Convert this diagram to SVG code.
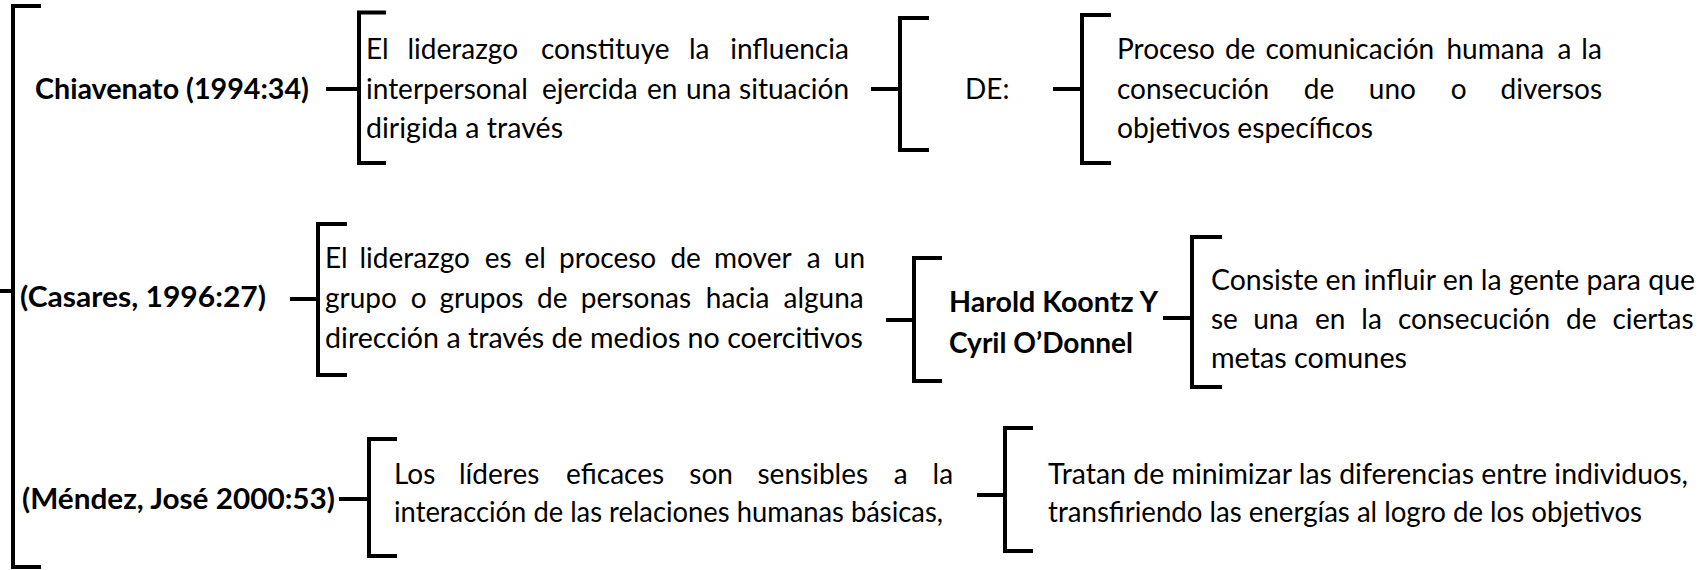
<svg xmlns="http://www.w3.org/2000/svg" width="1704" height="570" viewBox="0 0 1704 570">
<style>
.t{font-family:Lato,"Open Sans","Liberation Sans",sans-serif;font-size:28px;fill:#000}
.b{font-weight:700;font-size:29px}
.br{fill:none;stroke:#000;stroke-width:4}
.cn{fill:none;stroke:#000;stroke-width:4}
</style>
<rect width="1704" height="570" fill="#fff"/>
<g id="root-bracket"><path class="br" d="M41,6H13V567H41"/></g>
<g id="connectors">
<path class="cn" d="M0,291H13"/>
<path class="cn" d="M326,89H359"/>
<path class="cn" d="M871,89H900"/>
<path class="cn" d="M1053,89H1082"/>
<path class="cn" d="M290,299H318"/>
<path class="cn" d="M886,320H914"/>
<path class="cn" d="M1163,318H1192"/>
<path class="cn" d="M339,499H369"/>
<path class="cn" d="M977,495H1005"/>
</g>
<g id="chiavenato"><text class="t b" x="35" y="99" textLength="274" lengthAdjust="spacingAndGlyphs">Chiavenato (1994:34)</text></g>
<g id="def-chiavenato">
<path class="br" d="M386,12.5H359V163H386"/>
<text class="t" y="59"><tspan x="366">El</tspan><tspan x="407.5">liderazgo</tspan><tspan x="541">constituye</tspan><tspan x="689">la</tspan><tspan x="730.2">influencia</tspan></text>
<text class="t" y="99"><tspan x="366">interpersonal</tspan><tspan x="542">ejercida</tspan><tspan x="647">en</tspan><tspan x="686">una</tspan><tspan x="739.1">situación</tspan></text>
<text class="t" x="366" y="138" textLength="197" lengthAdjust="spacingAndGlyphs">dirigida a través</text>
</g>
<g id="de">
<path class="br" d="M929,18H900V150H929"/>
<text class="t" x="965" y="99">DE:</text>
</g>
<g id="def-de">
<path class="br" d="M1111,15H1082V163H1111"/>
<text class="t" y="59"><tspan x="1117">Proceso</tspan><tspan x="1224.9">de</tspan><tspan x="1265.4">comunicación</tspan><tspan x="1446.5">humana</tspan><tspan x="1557.4">a</tspan><tspan x="1581.3">la</tspan></text>
<text class="t" y="99"><tspan x="1117">consecución</tspan><tspan x="1303.8">de</tspan><tspan x="1368.8">uno</tspan><tspan x="1450.7">o</tspan><tspan x="1500.6">diversos</tspan></text>
<text class="t" x="1117" y="138" textLength="256" lengthAdjust="spacingAndGlyphs">objetivos específicos</text>
</g>
<g id="casares"><text class="t b" x="20" y="307" textLength="246" lengthAdjust="spacingAndGlyphs">(Casares, 1996:27)</text></g>
<g id="def-casares">
<path class="br" d="M347,224H318V375H347"/>
<text class="t" y="268"><tspan x="325">El</tspan><tspan x="359.4">liderazgo</tspan><tspan x="484.8">es</tspan><tspan x="524.4">el</tspan><tspan x="559.1">proceso</tspan><tspan x="670.4">de</tspan><tspan x="714.1">mover</tspan><tspan x="806.7">a</tspan><tspan x="833.8">un</tspan></text>
<text class="t" y="308"><tspan x="325">grupo</tspan><tspan x="410.7">o</tspan><tspan x="439.4">grupos</tspan><tspan x="537">de</tspan><tspan x="580.8">personas</tspan><tspan x="705.8">hacia</tspan><tspan x="783.5">alguna</tspan></text>
<text class="t" x="325" y="348" textLength="538" lengthAdjust="spacingAndGlyphs">dirección a través de medios no coercitivos</text>
</g>
<g id="koontz">
<path class="br" d="M942,258H914V381H942"/>
<text class="t b" x="949" y="312" textLength="209" lengthAdjust="spacingAndGlyphs">Harold Koontz Y</text>
<text class="t b" x="949" y="353" textLength="184" lengthAdjust="spacingAndGlyphs">Cyril O’Donnel</text>
</g>
<g id="def-koontz">
<path class="br" d="M1222,237H1192V387H1222"/>
<text class="t" x="1211" y="290" textLength="484" lengthAdjust="spacingAndGlyphs">Consiste en influir en la gente para que</text>
<text class="t" y="329"><tspan x="1211">se</tspan><tspan x="1253.2">una</tspan><tspan x="1315">en</tspan><tspan x="1361.3">la</tspan><tspan x="1398">consecución</tspan><tspan x="1566.1">de</tspan><tspan x="1612.5">ciertas</tspan></text>
<text class="t" x="1211" y="368" textLength="196" lengthAdjust="spacingAndGlyphs">metas comunes</text>
</g>
<g id="mendez"><text class="t b" x="22" y="509" textLength="313" lengthAdjust="spacingAndGlyphs">(Méndez, José 2000:53)</text></g>
<g id="def-mendez">
<path class="br" d="M397,439H369V556H397"/>
<text class="t" y="484"><tspan x="394">Los</tspan><tspan x="459">líderes</tspan><tspan x="566.1">eficaces</tspan><tspan x="689.3">son</tspan><tspan x="757.5">sensibles</tspan><tspan x="893.8">a</tspan><tspan x="932.6">la</tspan></text>
<text class="t" x="394" y="522" textLength="549" lengthAdjust="spacingAndGlyphs">interacción de las relaciones humanas básicas,</text>
</g>
<g id="def-mendez-2">
<path class="br" d="M1033,428H1005V551H1033"/>
<text class="t" x="1048" y="484" textLength="640" lengthAdjust="spacingAndGlyphs">Tratan de minimizar las diferencias entre individuos,</text>
<text class="t" x="1048" y="522" textLength="594" lengthAdjust="spacingAndGlyphs">transfiriendo las energías al logro de los objetivos</text>
</g>
</svg>
